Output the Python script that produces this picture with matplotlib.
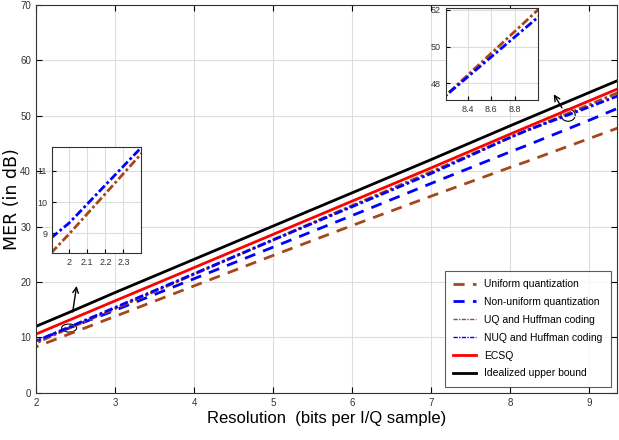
import matplotlib
matplotlib.use('Agg')
import matplotlib.pyplot as plt
from matplotlib.patches import Ellipse

plt.rcParams['font.family'] = ['Liberation Sans', 'DejaVu Sans']

# resolution grid (bits per I/Q sample)
res = [1.9, 2.0, 2.4, 3, 4, 5, 6, 7, 8, 8.2, 9, 9.4]

# MER values (dB)
mer_uniform = [7.8, 8.3, 10.5, 13.8, 19.3, 24.8, 30.2, 35.5, 40.7, 41.7, 45.9, 48.0]
mer_nonuniform = [8.8, 9.4, 11.6, 14.9, 20.6, 26.3, 32.0, 37.8, 43.5, 44.6, 49.2, 51.6]
mer_uq_huff = [8.37, 8.98, 11.55, 15.2, 21.4, 27.6, 33.8, 39.9, 46.1, 47.3, 52.0, 54.4]
mer_nuq_huff = [8.85, 9.33, 11.75, 15.4, 21.5, 27.6, 33.6, 39.6, 46.1, 47.3, 51.6, 53.8]
mer_ecsq = [10.0, 10.6, 13.0, 16.6, 22.6, 28.6, 34.6, 40.6, 46.7, 47.9, 52.7, 55.1]
mer_ideal = [11.4, 12.0, 14.4, 18.1, 24.1, 30.1, 36.1, 42.1, 48.2, 49.4, 54.2, 56.6]

brown = '#a5461b'
blue = '#0000ff'

series = [
    ('Uniform quantization', mer_uniform, brown, (0, (4, 3)), 2.0),
    ('Non-uniform quantization', mer_nonuniform, blue, (0, (4, 3)), 2.0),
    ('UQ and Huffman coding', mer_uq_huff, brown, (0, (3, 1, 1, 1)), 2.0),
    ('NUQ and Huffman coding', mer_nuq_huff, blue, (0, (3, 1, 1, 1)), 2.0),
    ('ECSQ', mer_ecsq, 'red', '-', 2.0),
    ('Idealized upper bound', mer_ideal, 'black', '-', 2.0),
]

fig = plt.figure(figsize=(6.19, 4.4), dpi=100)
ax = fig.add_axes([0.058, 0.107, 0.939, 0.882])

for name, vals, col, ls, lw in series:
    ax.plot(res, vals, color=col, linestyle=ls, linewidth=lw, label=name)

ax.set_xlim(2, 9.35)
ax.set_ylim(0, 70)
ax.set_xticks(range(2, 10))
ax.set_yticks(range(0, 71, 10))
ax.grid(True, color='#dddddd', linewidth=0.8)
ax.tick_params(direction='in', top=True, right=True, labelsize=7, labelcolor='#333333', length=4)
for sp in ax.spines.values():
    sp.set_color('#333333')
ax.set_xlabel('Resolution  (bits per I/Q sample)', fontsize=12, labelpad=2)
ax.set_ylabel('MER (in dB)', fontsize=12.5, family=['DejaVu Sans'])
ax.yaxis.set_label_coords(-0.026, 0.5)

leg = ax.legend(loc='lower right', fontsize=7.5, frameon=True, fancybox=False,
                edgecolor='#333333', borderaxespad=0.6, handlelength=2.2,
                labelspacing=0.75, borderpad=0.8)
leg.get_frame().set_linewidth(0.8)
for h in leg.get_lines()[2:4]:
    h.set_linewidth(1.0)

# zoom markers and arrows
ax.add_patch(Ellipse((2.42, 11.7), 0.19, 1.45, fill=False, color='black', lw=0.8))
ax.add_patch(Ellipse((8.73, 50.1), 0.18, 2.2, fill=False, color='black', lw=0.8))
ax.annotate('', xy=(2.52, 19.8), xytext=(2.46, 14.1),
            arrowprops=dict(arrowstyle='->', color='black', lw=1.0))
ax.annotate('', xy=(8.53, 54.3), xytext=(8.67, 51.0),
            arrowprops=dict(arrowstyle='->', color='black', lw=1.0))

# insets
def inset(rect, xlim, ylim, xt, xtl, yt, show):
    a = fig.add_axes(rect)
    for name, vals, col, ls, lw in series:
        if name in show:
            a.plot(res, vals, color=col, linestyle=ls, linewidth=lw)
    a.set_xlim(*xlim)
    a.set_ylim(*ylim)
    a.set_xticks(xt)
    a.set_xticklabels(xtl)
    a.set_yticks(yt)
    a.grid(True, color='#dddddd', linewidth=0.8)
    a.tick_params(direction='in', labelsize=6.5, labelcolor='#333333', length=3)
    for sp in a.spines.values():
        sp.set_color('#333333')
    return a

inset([0.084, 0.425, 0.144, 0.241], (1.905, 2.398), (8.37, 11.76),
      [2, 2.1, 2.2, 2.3], ['2', '2.1', '2.2', '2.3'], [9, 10, 11],
      ['UQ and Huffman coding', 'NUQ and Huffman coding'])
inset([0.7205, 0.7727, 0.1486, 0.209], (8.21, 9.0), (47.1, 52.1),
      [8.4, 8.6, 8.8], ['8.4', '8.6', '8.8'], [48, 50, 52],
      ['UQ and Huffman coding', 'NUQ and Huffman coding'])

fig.savefig('out.png', dpi=100)
